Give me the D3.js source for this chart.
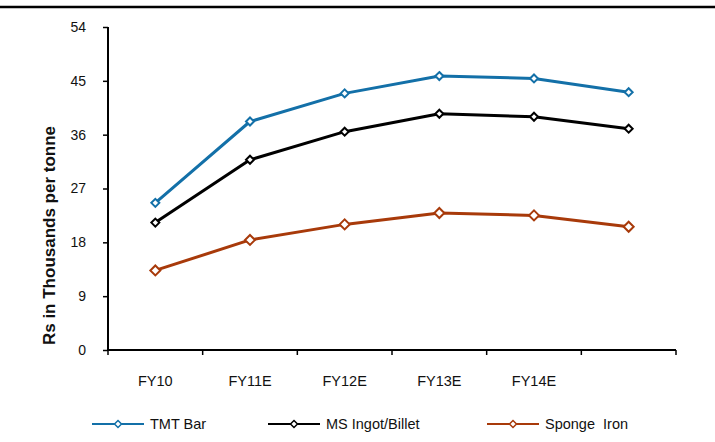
<!DOCTYPE html>
<html><head><meta charset="utf-8">
<script src="https://cdn.jsdelivr.net/npm/d3@7/dist/d3.min.js"></script>
<style>body{margin:0;background:#fff}svg{display:block;font-family:"Liberation Sans",Arial,sans-serif}</style>
</head><body>
<svg id="c" width="715" height="442"></svg>
<script>
const categories = ["FY10","FY11E","FY12E","FY13E","FY14E",""];
const tmtBar = [24.6, 38.2, 42.9, 45.8, 45.4, 43.1];
const msIngot = [21.3, 31.8, 36.5, 39.5, 39.0, 37.0];
const spongeIron = [13.3, 18.4, 21.0, 22.9, 22.5, 20.6];
const yTicks = [0, 9, 18, 27, 36, 45, 54];
const seriesNames = ["TMT Bar", "MS Ingot/Billet", "Sponge  Iron"];
const seriesColors = ["#1370a8", "#000000", "#a83a0a"];
const seriesData = [tmtBar, msIngot, spongeIron];

const svg = d3.select("#c");
const x0 = 108, x1 = 676, yTop = 27, yBot = 350;
const x = d3.scaleBand().domain(categories.map((c,i)=>i)).range([x0, x1]);
const y = d3.scaleLinear().domain([0, 54]).range([yBot, yTop]);
const FONT = "Liberation Sans, Arial, sans-serif";

// top border
svg.append("line").attr("x1",0).attr("x2",715).attr("y1",7).attr("y2",7).attr("stroke","#000").attr("stroke-width",2.5);

// y axis
const ya = svg.append("g").attr("transform",`translate(${x0},0)`)
  .call(d3.axisLeft(y).tickValues(yTicks).tickSize(5).tickPadding(17).tickFormat(d3.format("d")));
ya.select(".domain").attr("stroke-width",2).attr("d",`M0,${yTop}V${yBot}`);
ya.selectAll(".tick line").attr("stroke-width",1.5);
ya.selectAll("text").attr("font-size",14).attr("fill","#111").attr("font-family",FONT);

// x axis
const xa = svg.append("g").attr("transform",`translate(0,${yBot})`)
  .call(d3.axisBottom(x).tickFormat(i=>categories[i]).tickSize(0).tickPadding(26));
xa.select(".domain").attr("stroke-width",2).attr("d",`M${x0},0H${x1}`);
xa.selectAll("text").attr("font-size",14.5).attr("fill","#111").attr("font-family",FONT);
const edges = categories.map((c,i)=>x(i)).concat([x1]);
svg.append("g").selectAll("line").data(edges).join("line")
  .attr("x1",d=>d).attr("x2",d=>d).attr("y1",yBot).attr("y2",yBot+5)
  .attr("stroke","#000").attr("stroke-width",1.5);

// y title
svg.append("text").attr("transform",`translate(55,235.5) rotate(-90)`)
  .attr("text-anchor","middle").attr("font-size",17).attr("font-weight","bold").attr("fill","#111")
  .attr("font-family",FONT).text("Rs in Thousands per tonne");

const line = d3.line().x((d,i)=>x(i)+x.bandwidth()/2).y(d=>y(d));
const diamond = s => `M0,${-s}L${s},0L0,${s}L${-s},0Z`;
seriesData.forEach((data,k)=>{
  svg.append("path").datum(data).attr("d",line).attr("fill","none")
    .attr("stroke",seriesColors[k]).attr("stroke-width",3).attr("stroke-linejoin","round");
  const s = k===2 ? 5 : 4;
  svg.append("g").selectAll("path").data(data).join("path")
    .attr("transform",(d,i)=>`translate(${x(i)+x.bandwidth()/2},${y(d)})`)
    .attr("d",diamond(s)).attr("fill","#fff").attr("stroke",seriesColors[k]).attr("stroke-width",2);
});

// legend
const legX = [92, 268, 487];
const lg = svg.append("g").selectAll("g").data(seriesNames).join("g")
  .attr("transform",(d,i)=>`translate(${legX[i]},424)`);
lg.append("line").attr("x1",0).attr("x2",52).attr("stroke",(d,i)=>seriesColors[i]).attr("stroke-width",2);
lg.append("path").attr("transform","translate(26,0)").attr("d",diamond(3.5))
  .attr("fill","#fff").attr("stroke",(d,i)=>seriesColors[i]).attr("stroke-width",1.5);
lg.append("text").attr("x",58).attr("dy","0.35em").attr("font-size",14.5).attr("fill","#111")
  .attr("font-family",FONT).style("white-space","pre").text(d=>d);
</script>
</body></html>
